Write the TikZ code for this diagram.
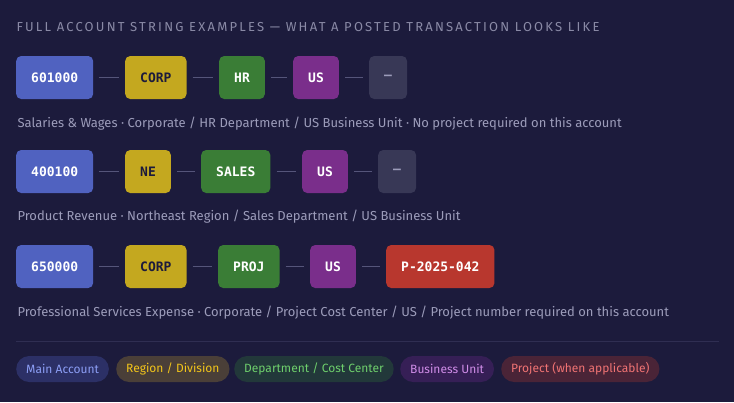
\documentclass[tikz,border=0pt]{standalone}
\usepackage{fontspec}
\setmainfont{Fira Sans}
\newfontfamily\codefont{DejaVu Sans Mono}
\newfontfamily\capsfont[LetterSpace=17]{Fira Sans}
\usepackage{xcolor}
\definecolor{bg}{HTML}{1C1B3C}
\definecolor{acctblue}{HTML}{5062C0}
\definecolor{regiongold}{HTML}{C4A81F}
\definecolor{deptgreen}{HTML}{3A7D36}
\definecolor{bupurple}{HTML}{7A2E8B}
\definecolor{projred}{HTML}{B8372E}
\definecolor{emptyseg}{HTML}{383856}
\definecolor{linkgray}{HTML}{55557A}
\definecolor{notegray}{HTML}{9C9CBA}
\definecolor{titlegray}{HTML}{8A8AA6}
\definecolor{rulegray}{HTML}{2F2E52}
\definecolor{darktext}{HTML}{1C1B3C}
% legend pill colours
\definecolor{acctfill}{HTML}{2C3066}
\definecolor{accttext}{HTML}{8C9EF5}
\definecolor{regionfill}{HTML}{4A3F38}
\definecolor{regiontext}{HTML}{F2C51A}
\definecolor{deptfill}{HTML}{22383A}
\definecolor{depttext}{HTML}{6ECF6C}
\definecolor{bufill}{HTML}{361F56}
\definecolor{butext}{HTML}{D08DE8}
\definecolor{projfill}{HTML}{4A2437}
\definecolor{projtext}{HTML}{F07373}
\tikzset{
  seg/.style={anchor=west, rounded corners=5pt, minimum height=43pt,
    inner xsep=15pt, text=white, font=\codefont\bfseries\fontsize{13}{15}\selectfont},
  acct/.style={seg, fill=acctblue},
  region/.style={seg, fill=regiongold, text=darktext},
  dept/.style={seg, fill=deptgreen},
  bu/.style={seg, fill=bupurple},
  proj/.style={seg, fill=projred},
  noproj/.style={seg, fill=emptyseg, text=notegray},
  link/.style={draw=linkgray, line width=1.4pt},
  note/.style={anchor=west, text=notegray, font=\fontsize{13}{15}\selectfont},
  pill/.style={anchor=west, rounded corners=13pt, minimum height=26pt,
    inner xsep=10pt, font=\fontsize{12}{14}\selectfont},
}

\begin{document}
\begin{tikzpicture}[x=1pt, y=-1pt]
    \useasboundingbox [fill=bg] (0,0) rectangle (734,402);
    \path (13,27) node [anchor=west, text=titlegray,
	font=\capsfont\fontsize{13}{15}\selectfont] (title)
	{FULL ACCOUNT STRING EXAMPLES — WHAT A POSTED TRANSACTION LOOKS LIKE};

    % first string
    \path (16,77.5) node [acct] (a1) {601000};
    \path (125,77.5) node [region] (r1) {CORP};
    \path (219,77.5) node [dept] (d1) {HR};
    \path (293,77.5) node [bu] (b1) {US};
    \path (369,77.5) node [noproj] (p1) {–};
    \draw [link] ([xshift=6pt]a1.east) -- ([xshift=-6pt]r1.west);
    \draw [link] ([xshift=6pt]r1.east) -- ([xshift=-6pt]d1.west);
    \draw [link] ([xshift=6pt]d1.east) -- ([xshift=-6pt]b1.west);
    \draw [link] ([xshift=6pt]b1.east) -- ([xshift=-6pt]p1.west);
    \path (14,124) node [note] (n1) {Salaries \& Wages · Corporate / HR Department / US Business Unit · No project required on this account};

    % second string
    \path (16,171.5) node [acct] (a2) {400100};
    \path (125,171.5) node [region] (r2) {NE};
    \path (201,171.5) node [dept] (d2) {SALES};
    \path (302,171.5) node [bu] (b2) {US};
    \path (378,171.5) node [noproj] (p2) {–};
    \draw [link] ([xshift=6pt]a2.east) -- ([xshift=-6pt]r2.west);
    \draw [link] ([xshift=6pt]r2.east) -- ([xshift=-6pt]d2.west);
    \draw [link] ([xshift=6pt]d2.east) -- ([xshift=-6pt]b2.west);
    \draw [link] ([xshift=6pt]b2.east) -- ([xshift=-6pt]p2.west);
    \path (14,217) node [note] (n2) {Product Revenue · Northeast Region / Sales Department / US Business Unit};

    % third string
    \path (16,266.5) node [acct] (a3) {650000};
    \path (125,266.5) node [region] (r3) {CORP};
    \path (218,266.5) node [dept] (d3) {PROJ};
    \path (310,266.5) node [bu] (b3) {US};
    \path (386,266.5) node [proj] (p3) {P-2025-042};
    \draw [link] ([xshift=6pt]a3.east) -- ([xshift=-6pt]r3.west);
    \draw [link] ([xshift=6pt]r3.east) -- ([xshift=-6pt]d3.west);
    \draw [link] ([xshift=6pt]d3.east) -- ([xshift=-6pt]b3.west);
    \draw [link] ([xshift=6pt]b3.east) -- ([xshift=-6pt]p3.west);
    \path (14,313) node [note] (n3) {Professional Services Expense · Corporate / Project Cost Center / US / Project number required on this account};

    % legend
    \coordinate (ruleL) at (16,341);
    \coordinate (ruleR) at (719,341);
    \draw [rulegray, line width=1pt] (ruleL) -- (ruleR);
    \path (16,369) node [pill, fill=acctfill, text=accttext] (k1) {Main Account};
    \path (116,369) node [pill, fill=regionfill, text=regiontext] (k2) {Region / Division};
    \path (234,369) node [pill, fill=deptfill, text=depttext] (k3) {Department / Cost Center};
    \path (400,369) node [pill, fill=bufill, text=butext] (k4) {Business Unit};
    \path (501,369) node [pill, fill=projfill, text=projtext] (k5) {Project (when applicable)};
\end{tikzpicture}
\end{document}
